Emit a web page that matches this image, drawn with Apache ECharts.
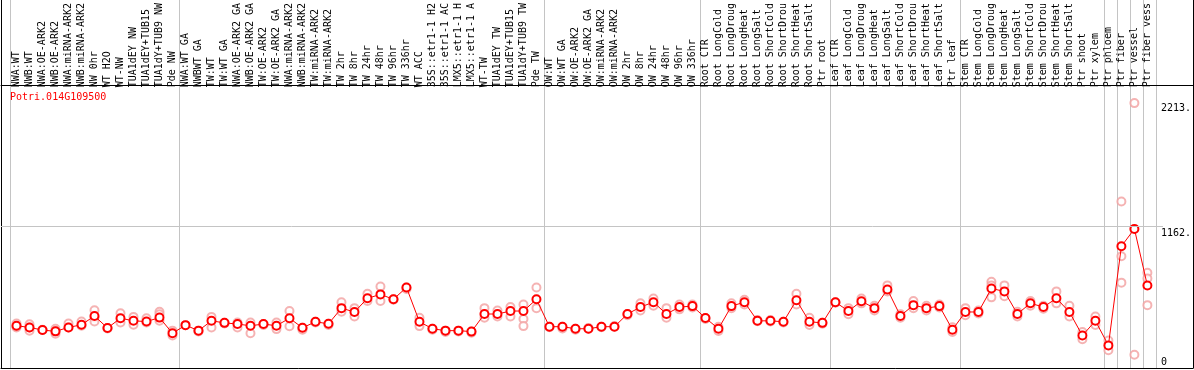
<!DOCTYPE html>
<html>
<head>
<meta charset="utf-8">
<script src="https://cdn.jsdelivr.net/npm/echarts@6/dist/echarts.min.js"></script>
<style>
html,body{margin:0;padding:0;background:#fff;}
#chart{width:1194px;height:370px;}
</style>
</head>
<body>
<div id="chart"></div>
<script>
const geneName = 'Potri.014G109500';

const categories = [
  'NWA:WT','NWB:WT','NWA:OE-ARK2','NWB:OE-ARK2','NWA:miRNA-ARK2','NWB:miRNA-ARK2','NW 0hr','WT H2O','WT-NW','TUA1dEY NW','TUA1dEY+TUB15 ','TUA1dY+TUB9 NW','Pde NW',
  'NWA:WT GA','NWBWT GA','TW:WT','TW:WT GA','NWA:OE-ARK2 GA','NWB:OE-ARK2 GA','TW:OE-ARK2','TW:OE-ARK2 GA','NWA:miRNA-ARK2','NWB:miRNA-ARK2','TW:miRNA-ARK2','TW:miRNA-ARK2',
  'TW 2hr','TW 8hr','TW 24hr','TW 48hr','TW 96hr','TW 336hr','WT ACC','35S::etr1-1 H2','35S::etr1-1 AC','LMX5::etr1-1 H','LMX5::etr1-1 A','WT-TW','TUA1dEY TW','TUA1dEY+TUB15 ','TUA1dY+TUB9 TW','Pde TW',
  'OW:WT','OW:WT GA','OW:OE-ARK2','OW:OE-ARK2 GA','OW:miRNA-ARK2','OW:miRNA-ARK2','OW 2hr','OW 8hr','OW 24hr','OW 48hr','OW 96hr','OW 336hr',
  'Root CTR','Root LongCold','Root LongDroug','Root LongHeat','Root LongSalt','Root ShortCold','Root ShortDrou','Root ShortHeat','Root ShortSalt','Ptr root',
  'Leaf CTR','Leaf LongCold','Leaf LongDroug','Leaf LongHeat','Leaf LongSalt','Leaf ShortCold','Leaf ShortDrou','Leaf ShortHeat','Leaf ShortSalt','Ptr leaf',
  'Stem CTR','Stem LongCold','Stem LongDroug','Stem LongHeat','Stem LongSalt','Stem ShortCold','Stem ShortDrou','Stem ShortHeat','Stem ShortSalt','Ptr shoot','Ptr xylem',
  'Ptr phloem','Ptr fiber','Ptr vessel','Ptr fiber vess'
];

// index of the first category of each group (group separators)
const groupStarts = [0, 13, 41, 53, 63, 73, 84, 85, 86, 87];

const meanValues = [
  353,339,317,306,339,361,435,334,416,394,388,421,290,
  358,312,394,377,367,353,367,353,416,336,386,369,
  500,468,582,615,574,673,386,328,312,312,304,451,451,476,476,574,
  345,345,328,328,345,345,451,509,550,451,509,517,
  418,328,517,550,394,394,386,566,386,377,
  550,476,558,500,656,435,525,500,517,320,
  468,468,664,640,451,541,509,582,468,271,394,
  189,1017,1162,689
];

const replicateValues = [
  [372,339,348],[366,312,339],[317,320],[328,287,306],[372,339],[388,353],[482,421,388],[334,330],[457,380],[427,361],[416,380],[470,449,394],[312,271],
  [358],[312,305],[427,339],[377,372],[380,339],[380,290],[367,360],[380,325],[476,349],[336,330,320],[386,380],[369,360],
  [550,470],[500,430],[620,560],[680,560],[574,570],[673,660],[420,350],[328,320],[312,300],[312,305],[304,295],[500,420],[480,430],[510,430],[530,410,350],[673,500],
  [345,340],[345,330],[328,320],[328,335],[345,340],[345,350],[451,440],[540,480],[580,520],[500,420],[530,490],[530,505],
  [418,410],[345,310],[540,500],[570,530],[400,390],[400,388],[386,380],[620,530],[420,360],[377,370],
  [550,545],[500,450],[580,540],[520,480],[690,640],[450,420],[560,500],[520,480],[530,505],[340,300],
  [500,440],[480,455],[720,690,590],[690,600],[470,430],[560,520],[520,495],[640,540],[520,430],[300,240],[430,360],
  [230,148],[1391,934,713],[2213,111],[795,748,525]
];

const yTickValues = [0, 1162, 2213];
const yTickLabels = ['0', '1162.', '2213.'];
const yMax = 2320;
const gridlineValue = 1162;

const repPoints = [];
replicateValues.forEach((arr, i) => arr.forEach(v => repPoints.push([i, v])));

const FONT = 'DejaVu Sans Mono';
const chart = echarts.init(document.getElementById('chart'), null, {renderer: 'canvas'});

const hiddenValueX = (grid, pos) => ({type: 'value', gridIndex: grid, position: pos, min: 0, max: 1, axisLabel: {show: false}, axisTick: {show: false}, splitLine: {show: false}, axisLine: {show: false}});

chart.setOption({
  animation: false,
  backgroundColor: '#ffffff',
  title: {
    text: geneName, left: 10, top: 92, padding: 0,
    textStyle: {color: '#ff0000', fontFamily: FONT, fontSize: 10, fontWeight: 'normal'}
  },
  grid: [
    {left: 10, right: 38, top: 85, bottom: 2},   // plot
    {left: 1, right: 1, top: 0, bottom: 2},      // frame
    {left: 1, right: 1, top: 85, bottom: 2},     // header separator
    {left: 10, right: 38, top: 0, bottom: 2},    // group separators
    {left: 1, right: 31, top: 85, bottom: 2}     // 1162 gridline
  ],
  xAxis: [
    {
      type: 'category', gridIndex: 0, position: 'top', data: categories, boundaryGap: true,
      axisLine: {show: false}, axisTick: {show: false}, splitLine: {show: false},
      axisLabel: {interval: 0, rotate: 90, margin: 3, color: '#000', fontFamily: FONT, fontSize: 10}
    },
    Object.assign(hiddenValueX(1, 'bottom'), {axisLine: {show: true, onZero: false, lineStyle: {color: '#000', width: 1}}}),
    Object.assign(hiddenValueX(2, 'top'), {axisLine: {show: true, onZero: false, lineStyle: {color: '#000', width: 1}}}),
    {
      type: 'category', gridIndex: 3, position: 'top', data: categories, boundaryGap: true,
      axisLine: {show: false}, axisTick: {show: false}, axisLabel: {show: false},
      splitLine: {show: true, interval: (idx) => groupStarts.indexOf(idx) >= 0, lineStyle: {color: '#c4c4c4', width: 1}}
    },
    hiddenValueX(4, 'bottom')
  ],
  yAxis: [
    {
      type: 'value', gridIndex: 0, position: 'right', min: 0, max: yMax,
      axisLine: {show: false}, axisTick: {show: false}, splitLine: {show: false},
      axisLabel: {
        customValues: yTickValues, margin: 7, color: '#000', fontFamily: FONT, fontSize: 10,
        formatter: (v) => {
          const i = yTickValues.indexOf(v);
          const t = i >= 0 ? yTickLabels[i] : '';
          if (v === 0) return '{b|' + t + '}';
          if (v === 2213) return '{t2|' + t + '}';
          return '{t|' + t + '}';
        },
        rich: {
          b: {fontFamily: FONT, fontSize: 10, padding: [0, 0, 12, 0]},
          t: {fontFamily: FONT, fontSize: 10, padding: [9, 0, 0, 0]},
          t2: {fontFamily: FONT, fontSize: 10, padding: [11, 0, 0, 0]}
        }
      }
    },
    {type: 'value', gridIndex: 1, position: 'left', axisLabel: {show: false}, axisTick: {show: false}, splitLine: {show: false},
     axisLine: {show: true, onZero: false, lineStyle: {color: '#000', width: 1}}},
    {type: 'value', gridIndex: 1, position: 'right', axisLabel: {show: false}, axisTick: {show: false}, splitLine: {show: false},
     axisLine: {show: true, onZero: false, lineStyle: {color: '#000', width: 1}}},
    {type: 'value', gridIndex: 2, show: false},
    {type: 'value', gridIndex: 3, show: false},
    {type: 'value', gridIndex: 4, min: 0, max: yMax, show: false}
  ],
  series: [
    {
      type: 'line', xAxisIndex: 4, yAxisIndex: 5, data: [], silent: true,
      markLine: {silent: true, symbol: ['none', 'none'], label: {show: false}, animation: false,
        lineStyle: {color: '#c4c4c4', width: 1, type: 'solid'}, data: [{yAxis: gridlineValue}]}
    },
    {
      type: 'scatter', xAxisIndex: 0, yAxisIndex: 0, data: repPoints, silent: true,
      symbol: 'emptyCircle', symbolSize: 8,
      itemStyle: {color: '#f2a0a0', borderColor: '#f2a0a0', borderWidth: 1.2}, z: 3
    },
    {
      type: 'line', xAxisIndex: 0, yAxisIndex: 0, data: meanValues, silent: true,
      symbol: 'emptyCircle', symbolSize: 8, showAllSymbol: true,
      lineStyle: {color: '#ff0000', width: 1},
      itemStyle: {color: '#ff0000', borderColor: '#ff0000', borderWidth: 1.6}, z: 4
    }
  ]
});
</script>
</body>
</html>
